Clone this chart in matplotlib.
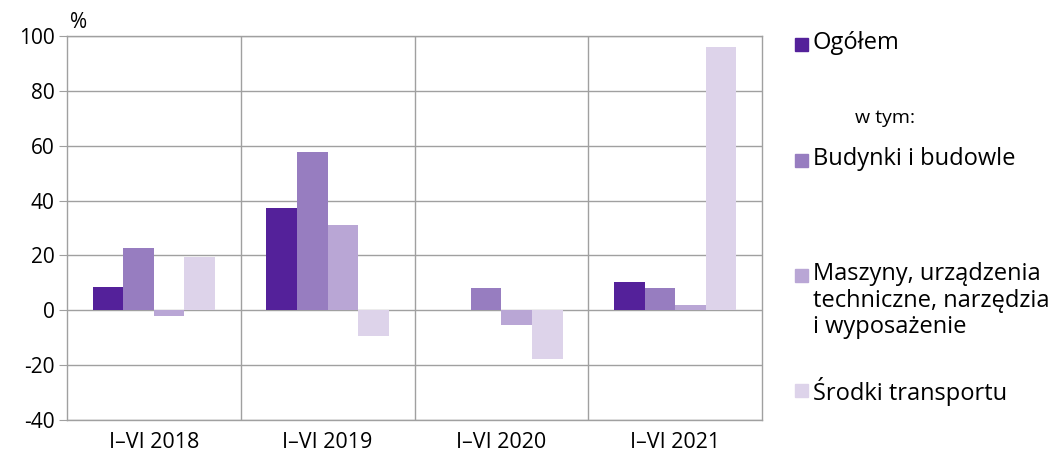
import matplotlib.pyplot as plt
import numpy as np
from matplotlib.patches import Rectangle

plt.rcParams['font.family'] = ['Open Sans', 'DejaVu Sans']

# Data
categories = ["I–VI 2018", "I–VI 2019", "I–VI 2020", "I–VI 2021"]
series_names = ["Ogółem", "Budynki i budowle",
                "Maszyny, urządzenia\ntechniczne, narzędzia\ni wyposażenie",
                "Środki transportu"]
ogolem = [8.5, 37.4, 0.0, 10.2]
budynki = [22.8, 57.7, 8.1, 8.0]
maszyny = [-2.2, 31.0, -5.2, 1.9]
srodki = [19.3, -9.3, -17.9, 96.1]
values = [ogolem, budynki, maszyny, srodki]
colors = ["#54219a", "#977dc0", "#b9a6d5", "#ddd3ea"]
yticks = [-40, -20, 0, 20, 40, 60, 80, 100]

fig = plt.figure(figsize=(10.49, 4.59), dpi=100)
ax = fig.add_axes([0.0639, 0.085, 0.6625, 0.8366])

x = np.arange(len(categories))
w = 0.176
for i, (vals, c) in enumerate(zip(values, colors)):
    ax.bar(x + (i - 1.5) * w, vals, width=w, color=c, zorder=3)

ax.set_xlim(-0.5, 3.5)
ax.set_ylim(-40, 100)
ax.set_yticks(yticks)
ax.set_yticklabels([str(t) for t in yticks], fontsize=15)
ax.set_xticks(x)
ax.set_xticklabels(categories, fontsize=15.5)
ax.tick_params(axis='x', length=0, pad=9)
ax.tick_params(axis='y', length=6, color='#a0a0a0', pad=3)

for yv in yticks:
    ax.axhline(yv, color='#a0a0a0', lw=1, zorder=1)
for xv in [0.5, 1.5, 2.5]:
    ax.axvline(xv, color='#a0a0a0', lw=1, zorder=1)
for s in ax.spines.values():
    s.set_color('#a0a0a0')
    s.set_linewidth(1)

fig.text(79 / 1049, 1 - 22 / 459, "%", fontsize=15, ha='center', va='center')

# Legend drawn by hand to match the irregular layout
legend_y = [44, 160, 275, 390]
for name, c, yp in zip(series_names, colors, legend_y):
    fig.patches.append(Rectangle((795 / 1049, 1 - (yp + 7) / 459), 13 / 1049, 13 / 459,
                                 transform=fig.transFigure, color=c))
    fig.text(813 / 1049, 1 - (yp - 13) / 459, name, fontsize=17, ha='left', va='top',
             linespacing=1.15)
fig.text(855 / 1049, 1 - 118 / 459, "w tym:", fontsize=14, ha='left', va='center')

fig.savefig("out.png", dpi=100)
